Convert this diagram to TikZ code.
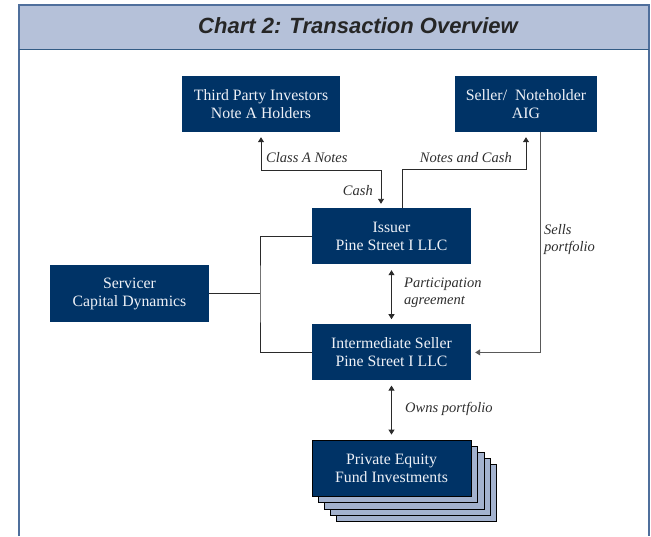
\documentclass[tikz,border=0pt]{standalone}
\usepackage{fontspec}
\setmainfont{Liberation Serif}
\newfontfamily\titlefont{Liberation Sans}
\usetikzlibrary{positioning,arrows.meta,backgrounds}

\definecolor{navy}{HTML}{003366}
\definecolor{boxtext}{HTML}{EEF1F7}
\definecolor{bandblue}{HTML}{B5C1D9}
\definecolor{frameblue}{HTML}{4F6F9C}
\definecolor{cardblue}{HTML}{A3B2CE}
\definecolor{lbltext}{HTML}{2E2E2E}
\definecolor{linegray}{HTML}{2A2A2A}

\begin{document}
\begin{tikzpicture}[x=1pt, y=1pt,
    box/.style={rectangle, fill=navy, text=boxtext, minimum width=159pt,
                minimum height=56pt, inner sep=0pt, align=center,
                font=\fontsize{15.8}{18}\selectfont},
    lbl/.style={inner sep=0pt, align=left, text=lbltext,
                font=\fontsize{14.5}{17}\selectfont\itshape},
    link/.style={draw=linegray, line width=0.9pt},
    flow/.style={link, -{Triangle[length=5pt,width=6pt]}},
    both/.style={link, {Triangle[length=5pt,width=6pt]}-{Triangle[length=5pt,width=6pt]}},
    card/.style={draw=black, fill=cardblue, line width=0.8pt}
]
    \useasboundingbox (0,0) rectangle (651,-536);

    % frame and title band
    \fill[bandblue] (19,-5) rectangle (649,-49);
    \draw[frameblue, line width=1.4pt] (19,-536) -- (19,-5) -- (649,-5) -- (649,-536);
    \draw[navy!80, line width=1pt] (19,-49) -- (649,-49);
    \node[font=\titlefont\bfseries\itshape\fontsize{22}{26}\selectfont, text=black!85]
        (title) at (358,-26) {Chart 2: Transaction Overview};

    % parties
    \node[box, minimum width=158pt] (third)  at (261,-104)   {Third Party Investors\\Note A Holders};
    \node[box, minimum width=142pt] (seller) at (526,-104)   {Seller/\ \ Noteholder\\AIG};
    \node[box] (issuer)   at (391.5,-236)                  {Issuer\\Pine Street I LLC};
    \node[box] (inter)    [below=60pt of issuer]           {Intermediate Seller\\Pine Street I LLC};
    \node[box, minimum height=57pt] (servicer) at (129.5,-293.5) {Servicer\\Capital Dynamics};
    \node[box, draw=black, line width=0.8pt] (fund) [below=59pt of inter] {Private Equity\\Fund Investments};

    \begin{scope}[on background layer]
        \foreach \k in {4,3,2,1}
            \draw[card] ([shift={(6.3*\k,-6.3*\k)}]fund.south west)
                rectangle ([shift={(6.3*\k,-6.3*\k)}]fund.north east);
    \end{scope}

    % connectors
    \draw[both, shorten <=5pt, shorten >=4pt] (third.south) -- ++(0,-38)
        -| ([xshift=-10.5pt]issuer.north);
    \draw[flow, shorten >=5pt] ([xshift=10.5pt]issuer.north) -- ++(0,38)
        -| (seller.south);
    \draw[flow, draw=black!65, shorten >=4pt] ([xshift=14pt]seller.south) |- (inter.east);
    \draw[both, shorten <=6pt, shorten >=5pt] (issuer.south) -- (inter.north);
    \draw[both, shorten <=5pt, shorten >=5pt] (inter.south) -- (fund.north);

    \coordinate (hub) at (260,-293.5);
    \draw[link] (servicer.east) -- (hub);
    \draw[link] (issuer.west) -| (hub) |- (inter.west);

    % labels
    \node[lbl, anchor=west] (classa) at (266,-158) {Class A Notes};
    \node[lbl, anchor=east] (cash)   at (373,-191) {Cash};
    \node[lbl, anchor=east] (notes)  at (512,-158) {Notes and Cash};
    \node[lbl, anchor=west] (sells)  at (544,-240) {Sells\\portfolio};
    \node[lbl, anchor=west] (part)   at (404,-293) {Participation\\agreement};
    \node[lbl, anchor=west] (owns)   at (405,-409) {Owns portfolio};
\end{tikzpicture}
\end{document}
